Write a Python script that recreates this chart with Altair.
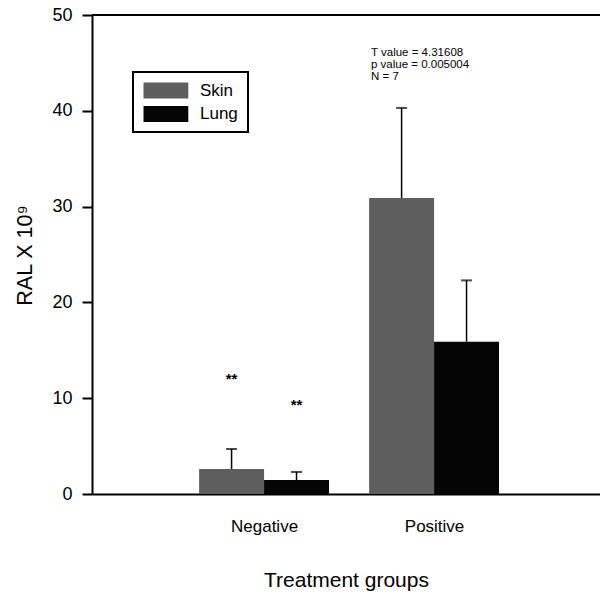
import altair as alt
import pandas as pd

# ---- data ----
groups = ["Negative", "Positive"]
group_pos = [1, 2]
tissues = ["Skin", "Lung"]
skin_mean = [2.6, 30.9]
skin_upper = [4.7, 40.3]
lung_mean = [1.45, 15.9]
lung_upper = [2.3, 22.3]
star_labels = ["**", "**"]
star_y = [12.3, 9.6]
stats_lines = ["T value = 4.31608", "p value = 0.005004", "N = 7"]
stats_y = [45.7, 44.45, 43.2]
y_ticks = [0, 10, 20, 30, 40, 50]

BAR_W = 0.382
FONT = "Liberation Sans"
GRAY = "#5e5e5e"

rows = []
for g, p, sm, su, lm, lu in zip(groups, group_pos, skin_mean, skin_upper, lung_mean, lung_upper):
    rows.append(dict(group=g, tissue="Skin", x0=p - BAR_W, x1=p, xc=p - BAR_W / 2, mean=sm, upper=su))
    rows.append(dict(group=g, tissue="Lung", x0=p, x1=p + BAR_W, xc=p + BAR_W / 2, mean=lm, upper=lu))
df = pd.DataFrame(rows)

neg = df[df.group == "Negative"].reset_index(drop=True)
stars = pd.DataFrame(dict(xc=neg.xc, y=star_y, t=star_labels))
stats = pd.DataFrame(dict(x=[1.629] * 3, y=stats_y, t=stats_lines))
top = pd.DataFrame(dict(y=[50]))

xscale = alt.Scale(domain=[-0.012, 2.976], nice=False, zero=False)
yscale = alt.Scale(domain=[0, 50], nice=False)

x_axis = alt.Axis(
    values=group_pos,
    labelExpr="datum.value == 1 ? 'Negative' : 'Positive'",
    ticks=False, grid=False, domainColor="black", domainWidth=2,
    labelFontSize=17, labelColor="black", labelBaseline="alphabetic", labelPadding=37,
    title="Treatment groups", titleFontSize=21, titleFontWeight="normal", titleColor="black",
    titleBaseline="alphabetic", titleY=92,
)
y_axis = alt.Axis(
    values=y_ticks, grid=False, domainColor="black", domainWidth=2,
    tickColor="black", tickWidth=2, tickSize=10,
    labelFontSize=18, labelColor="black", labelPadding=10,
    title="RAL X 10⁹", titleFontSize=21.5, titleFontWeight="normal", titleColor="black",
    titleX=-56, titleY=240, titleBaseline="bottom",
)

bars = alt.Chart(df).mark_bar(stroke=None).encode(
    x=alt.X("x0:Q", scale=xscale, axis=x_axis),
    x2="x1:Q",
    y=alt.Y("mean:Q", scale=yscale, axis=y_axis),
    y2=alt.datum(0),
    color=alt.Color(
        "tissue:N",
        scale=alt.Scale(domain=tissues, range=[GRAY, "#050505"]),
        legend=alt.Legend(
            orient="none", legendX=41, legendY=57, title=None,
            strokeColor="black", padding=10,
            symbolType="M-1,-1L4.6,-1L4.6,1L-1,1Z",
            symbolSize=256, symbolStrokeWidth=0,
            labelFontSize=17, labelColor="black", labelOffset=40, rowPadding=5.5,
        ),
    ),
)

err_rule = alt.Chart(df).mark_rule(color="black", strokeWidth=1.5).encode(
    x=alt.X("xc:Q", scale=xscale), y=alt.Y("mean:Q", scale=yscale), y2="upper:Q"
)
err_cap = alt.Chart(df).mark_tick(color="black", thickness=2, size=11, orient="horizontal").encode(
    x=alt.X("xc:Q", scale=xscale), y=alt.Y("upper:Q", scale=yscale)
)
star_text = alt.Chart(stars).mark_text(fontSize=15, fontWeight="bold", color="black", baseline="alphabetic", dy=8).encode(
    x=alt.X("xc:Q", scale=xscale), y=alt.Y("y:Q", scale=yscale), text="t:N"
)
stats_text = alt.Chart(stats).mark_text(fontSize=11.5, color="black", align="left", baseline="alphabetic").encode(
    x=alt.X("x:Q", scale=xscale), y=alt.Y("y:Q", scale=yscale), text="t:N"
)
top_rule = alt.Chart(top).mark_rule(color="black", strokeWidth=2).encode(y=alt.Y("y:Q", scale=yscale))

chart = alt.layer(bars, err_rule, err_cap, star_text, stats_text, top_rule).properties(
    width=508, height=479,
    autosize=alt.AutoSizeParams(type="none"),
    padding={"left": 92, "top": 15, "right": 0, "bottom": 99},
).configure(font=FONT).configure_view(stroke=None).configure_legend(strokeWidth=2)

chart.save("out.html", embed_options={"renderer": "svg", "actions": False})
